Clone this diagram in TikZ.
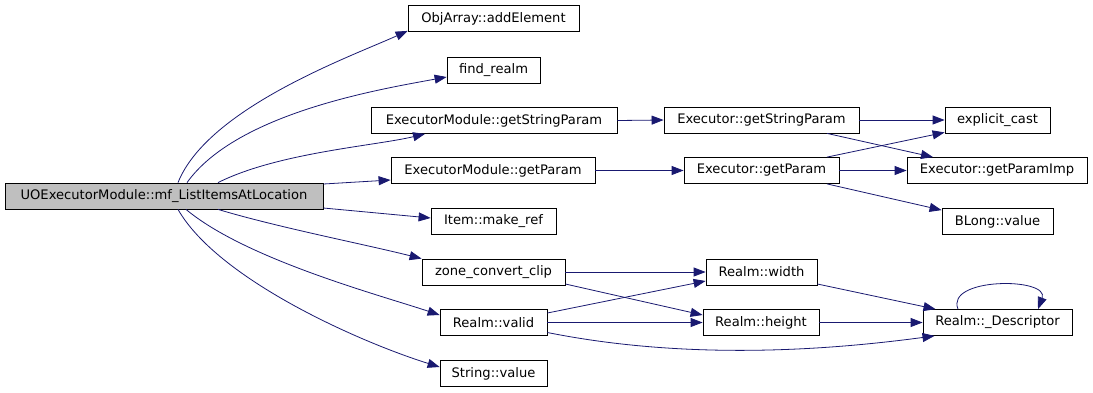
\documentclass[tikz,border=0pt]{standalone}
\usepackage{fontspec}
\setmainfont{DejaVu Sans}
\usetikzlibrary{arrows.meta}
\definecolor{edgeblue}{HTML}{191970}
\definecolor{maingray}{HTML}{BFBFBF}
\begin{document}
\begin{tikzpicture}[x=1pt, y=-1pt, every node/.style={font=\fontsize{13.1}{16}\selectfont},
  fnode/.style={rectangle, draw, line width=0.8pt, fill=white, minimum height=26pt, inner xsep=2pt, inner ysep=0pt},
  edge/.style={line width=0.8pt, edgeblue, -{Triangle[length=12pt,width=9pt]}}]
  \useasboundingbox (0,0) rectangle (1093,392);
  % caller and its direct callees
  \node[fnode, fill=maingray, minimum width=318pt] (main) at (164,196) {UOExecutorModule::mf\_ListItemsAtLocation};
  \node[fnode, minimum width=171pt] (addel) at (493.5,18.5) {ObjArray::addElement};
  \node[fnode, minimum width=93pt] (findrealm) at (493.5,70) {find\_realm};
  \node[fnode, minimum width=246pt] (emgsp) at (494,120.5) {ExecutorModule::getStringParam};
  \node[fnode, minimum width=204pt] (emgp) at (493,170.5) {ExecutorModule::getParam};
  \node[fnode, minimum width=125pt] (makeref) at (493.5,221.5) {Item::make\_ref};
  \node[fnode, minimum width=143pt] (zcc) at (493.5,272) {zone\_convert\_clip};
  \node[fnode, minimum width=107pt] (valid) at (493.5,322.5) {Realm::valid};
  \node[fnode, minimum width=107pt] (strval) at (493.5,373.5) {String::value};
  % second and third level
  \node[fnode, minimum width=195pt] (egsp) at (761.5,120) {Executor::getStringParam};
  \node[fnode, minimum width=155pt] (egp) at (761.5,170.5) {Executor::getParam};
  \node[fnode, minimum width=111pt] (rwidth) at (761.5,272) {Realm::width};
  \node[fnode, minimum width=116pt] (rheight) at (761,322.5) {Realm::height};
  \node[fnode, minimum width=105pt] (ecast) at (997.5,120) {explicit\_cast};
  \node[fnode, minimum width=180pt] (egpi) at (997,170.5) {Executor::getParamImp};
  \node[fnode, minimum width=111pt] (blong) at (997.5,221.5) {BLong::value};
  \node[fnode, minimum width=149pt] (rdesc) at (997.5,322.5) {Realm::\_Descriptor};
  % calls from the main function
  \draw[edge] ([xshift=14]main.north) .. controls +(30,-75) and +(-55,25) .. ([yshift=1]addel.south west);
  \draw[edge] ([xshift=23]main.north) .. controls +(50,-70) and +(-65,12) .. ([yshift=-7]findrealm.west);
  \draw[edge] ([xshift=54]main.north) .. controls +(60,-30) and +(-50,12) .. ([xshift=-69]emgsp.south);
  \draw[edge] ([yshift=12]main.east) -- ([yshift=-9.5]emgp.west);
  \draw[edge] ([yshift=-12]main.east) -- ([yshift=3.5]makeref.west);
  \draw[edge] ([xshift=54]main.south) .. controls +(60,18) and +(-60,-15) .. (zcc.north west);
  \draw[edge] ([xshift=22]main.south) .. controls +(60,50) and +(-60,-20) .. ([yshift=7.5]valid.west);
  \draw[edge] ([xshift=14]main.south) .. controls +(40,70) and +(-80,-25) .. ([yshift=6.5]strval.west);
  % deeper calls
  \draw[edge] (emgsp.east) -- (egsp.west); \draw[edge] (emgp.east) -- (egp.west);
  \draw[edge] (egsp.east) -- (ecast.west); \draw[edge] (egp.east) -- (egpi.west);
  \draw[edge] ([xshift=65.5]egsp.south) -- ([xshift=-64]egpi.north);
  \draw[edge] ([xshift=65.5]egp.north) -- ([yshift=1]ecast.south west);
  \draw[edge] ([xshift=65.5]egp.south) -- ([yshift=-2]blong.north west);
  \draw[edge] (zcc.east) -- (rwidth.west); \draw[edge] ([yshift=-12]zcc.east) -- ([yshift=7.5]rheight.west);
  \draw[edge] ([yshift=9.5]valid.east) -- ([yshift=-9]rwidth.west); \draw[edge] (valid.east) -- (rheight.west);
  \draw[edge] ([yshift=-10]valid.east) .. controls +(150,30) and +(-90,12) .. ([xshift=-63]rdesc.south);
  \draw[edge] ([yshift=-12]rwidth.east) -- ([xshift=-62]rdesc.north);
  \draw[edge] (rheight.east) -- (rdesc.west);
  \draw[edge] ([xshift=-39.5]rdesc.north) .. controls +(-13,-32) and +(12,-32) .. ([xshift=40.5]rdesc.north);
\end{tikzpicture}
\end{document}
